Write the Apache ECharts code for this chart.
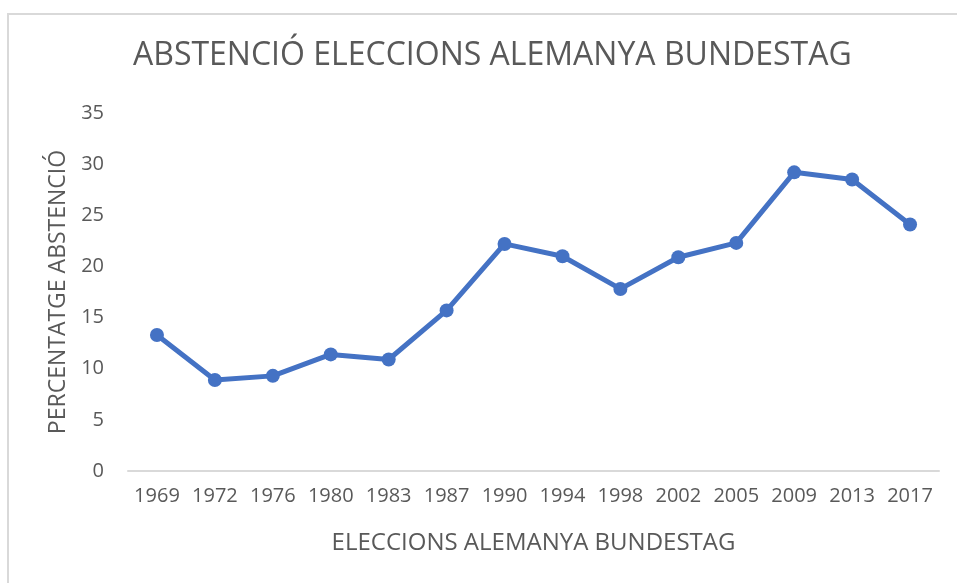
<!DOCTYPE html>
<html>
<head>
	<meta charset="utf-8">
	<title>ECharts</title>
	<style>
		* {
			margin: 0px;
			padding: 0px;
		}
		#main {
			width: 957px;
			height: 583px;
			background: #fff;
		}
	</style>
</head>
<body>
	<div id="main"></div>
	<script src="https://cdn.jsdelivr.net/npm/echarts@6/dist/echarts.min.js"></script>
	<script type="text/javascript">
		// dades llegides del gràfic
		var anys = ['1969', '1972', '1976', '1980', '1983', '1987', '1990', '1994', '1998', '2002', '2005', '2009', '2013', '2017'];
		var abstencio = [13.3, 8.9, 9.3, 11.4, 10.9, 15.7, 22.2, 21.0, 17.8, 20.9, 22.3, 29.2, 28.5, 24.1];
		var yTicks = [0, 5, 10, 15, 20, 25, 30, 35];

		var textColor = '#595959';
		var fontName = 'Open Sans';

		var myChart = echarts.init(document.getElementById('main'));

		var option = {
			animation: false,
			title: {
				text: 'ABSTENCIÓ ELECCIONS ALEMANYA BUNDESTAG',
				left: 128,
				top: 35,
				textStyle: {
					color: textColor,
					fontFamily: fontName,
					fontWeight: 'normal',
					fontSize: 32
				}
			},
			graphic: [{
				type: 'rect',
				shape: { x: 8, y: 14, width: 1000, height: 1000 },
				style: { fill: null, stroke: '#d9d9d9', lineWidth: 2 },
				silent: true
			}],
			grid: {
				left: 128,
				right: 18,
				top: 113,
				bottom: 112
			},
			xAxis: {
				type: 'category',
				data: anys,
				boundaryGap: true,
				name: 'ELECCIONS ALEMANYA BUNDESTAG',
				nameLocation: 'middle',
				nameGap: 60,
				nameTextStyle: {
					color: textColor,
					fontFamily: fontName,
					fontSize: 24
				},
				axisLine: { lineStyle: { color: '#d9d9d9', width: 2 } },
				axisTick: { show: false },
				axisLabel: {
					interval: 0,
					color: textColor,
					fontFamily: fontName,
					fontSize: 20,
					margin: 15
				}
			},
			yAxis: {
				type: 'value',
				min: yTicks[0],
				max: yTicks[yTicks.length - 1],
				interval: 5,
				name: 'PERCENTATGE ABSTENCIÓ',
				nameLocation: 'middle',
				nameRotate: 90,
				nameGap: 56,
				nameTextStyle: {
					color: textColor,
					fontFamily: fontName,
					fontSize: 23
				},
				axisLine: { show: false },
				axisTick: { show: false },
				splitLine: { show: false },
				axisLabel: {
					color: textColor,
					fontFamily: fontName,
					fontSize: 20,
					margin: 24
				}
			},
			series: [{
				name: 'abstencio',
				type: 'line',
				data: abstencio,
				symbol: 'circle',
				symbolSize: 14,
				lineStyle: { color: '#4472C4', width: 5 },
				itemStyle: { color: '#4472C4' }
			}]
		};

		myChart.setOption(option);
	</script>
</body>
</html>
